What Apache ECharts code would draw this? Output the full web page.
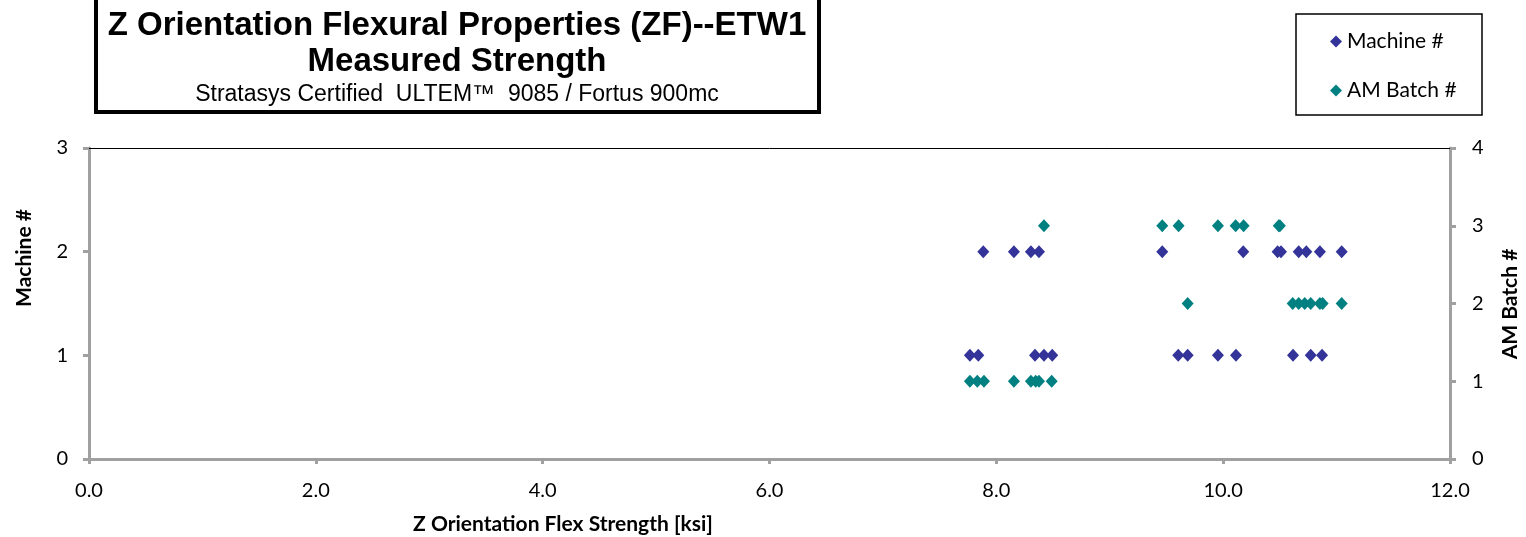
<!DOCTYPE html>
<html>
<head>
<meta charset="utf-8">
<script src="https://cdn.jsdelivr.net/npm/echarts@6/dist/echarts.min.js"></script>
<style>html,body{margin:0;padding:0;background:#fff;}#c{width:1526px;height:537px;}</style>
</head>
<body>
<div id="c"></div>
<script>
// Data
const titleLines = ['Z Orientation Flexural Properties (ZF)--ETW1', 'Measured Strength', 'Stratasys Certified  ULTEM\u2122  9085 / Fortus 900mc'];
const seriesNames = ['Machine #', 'AM Batch #'];
const xTitle = 'Z Orientation Flex Strength [ksi]';
// Machine # (left axis)
const machine1 = [7.767, 7.841, 8.341, 8.42, 8.493, 9.604, 9.687, 9.954, 10.113, 10.616, 10.772, 10.872];
const machine2 = [7.885, 8.155, 8.305, 8.376, 9.463, 10.177, 10.48, 10.51, 10.666, 10.733, 10.853, 11.045];
// AM Batch # (right axis)
const batch1 = [7.767, 7.832, 7.891, 8.155, 8.305, 8.347, 8.376, 8.488];
const batch2 = [9.687, 10.613, 10.666, 10.719, 10.772, 10.853, 10.877, 11.045];
const batch3 = [8.42, 9.463, 9.607, 9.954, 10.11, 10.18, 10.49, 10.5];

const machineData = machine1.map(v => [v, 1]).concat(machine2.map(v => [v, 2]));
const batchData = batch1.map(v => [v, 1]).concat(batch2.map(v => [v, 2])).concat(batch3.map(v => [v, 3]));

const FONT = 'Lato, "Open Sans", sans-serif';
const TFONT = '"Liberation Sans", Arial, sans-serif';
const axisGray = '#a0a0a0';

const chart = echarts.init(document.getElementById('c'));
chart.setOption({
  animation: false,
  backgroundColor: '#fff',
  grid: { left: 89, right: 76, top: 148, bottom: 78, containLabel: false },
  xAxis: [{
    type: 'value', min: 0, max: 12, interval: 2, position: 'bottom',
    axisLine: { show: true, onZero: false, lineStyle: { color: axisGray, width: 3 } },
    axisTick: { show: true, length: 5, lineStyle: { color: axisGray, width: 3 } },
    axisLabel: { formatter: v => v.toFixed(1), color: '#000', fontSize: 20, fontFamily: FONT, margin: 22 },
    splitLine: { show: false }
  }, {
    type: 'value', min: 0, max: 12, position: 'top',
    axisLine: { show: true, onZero: false, lineStyle: { color: '#000', width: 1 } },
    axisTick: { show: false }, axisLabel: { show: false }, splitLine: { show: false }
  }],
  yAxis: [{
    type: 'value', min: 0, max: 3, interval: 1, position: 'left',
    axisLine: { show: true, onZero: false, lineStyle: { color: axisGray, width: 3 } },
    axisTick: { show: true, length: 6, lineStyle: { color: axisGray, width: 3 } },
    axisLabel: { color: '#000', fontSize: 20, fontFamily: FONT, margin: 21 },
    splitLine: { show: false }
  }, {
    type: 'value', min: 0, max: 4, interval: 1, position: 'right',
    axisLine: { show: true, onZero: false, lineStyle: { color: axisGray, width: 3 } },
    axisTick: { show: true, length: 6, lineStyle: { color: axisGray, width: 3 } },
    axisLabel: { color: '#000', fontSize: 20, fontFamily: FONT, margin: 22 },
    splitLine: { show: false }
  }],
  legend: {
    orient: 'vertical', left: 1325, top: 26, itemGap: 28,
    itemWidth: 12, itemHeight: 12,
    textStyle: { fontSize: 21, fontFamily: FONT, color: '#000' },
    data: [{ name: seriesNames[0], icon: 'diamond' }, { name: seriesNames[1], icon: 'diamond' }]
  },
  series: [{
    name: seriesNames[0], type: 'scatter', xAxisIndex: 0, yAxisIndex: 0,
    symbol: 'diamond', symbolSize: [12, 13], itemStyle: { color: '#333399', opacity: 1 },
    data: machineData
  }, {
    name: seriesNames[1], type: 'scatter', xAxisIndex: 0, yAxisIndex: 1,
    symbol: 'diamond', symbolSize: [12, 13], itemStyle: { color: '#008080', opacity: 1 },
    data: batchData
  }],
  graphic: [
    { type: 'rect', shape: { x: 96, y: -3, width: 723, height: 115 }, style: { fill: '#fff', stroke: '#000', lineWidth: 4 }, z: 1 },
    { type: 'text', z: 2, style: { text: titleLines[0], x: 457, y: 26, textAlign: 'center', textVerticalAlign: 'middle', font: 'bold 33px ' + TFONT, fill: '#000' } },
    { type: 'text', z: 2, style: { text: titleLines[1], x: 457, y: 62, textAlign: 'center', textVerticalAlign: 'middle', font: 'bold 33px ' + TFONT, fill: '#000' } },
    { type: 'text', z: 2, style: { text: titleLines[2], x: 457, y: 95, textAlign: 'center', textVerticalAlign: 'middle', font: '23px ' + TFONT, fill: '#000' } },
    { type: 'rect', shape: { x: 1296, y: 14, width: 186, height: 101 }, style: { fill: 'none', stroke: '#000', lineWidth: 1.5 }, z: 1 },
    { type: 'text', style: { text: xTitle, x: 563, y: 524, textAlign: 'center', textVerticalAlign: 'middle', font: 'bold 21px ' + FONT, fill: '#000' } },
    { type: 'text', rotation: Math.PI / 2, x: 24, y: 258, style: { text: seriesNames[0], x: 0, y: 0, textAlign: 'center', textVerticalAlign: 'middle', font: 'bold 21px ' + FONT, fill: '#000' } },
    { type: 'text', rotation: Math.PI / 2, x: 1510, y: 304, style: { text: seriesNames[1], x: 0, y: 0, textAlign: 'center', textVerticalAlign: 'middle', font: 'bold 21px ' + FONT, fill: '#000' } }
  ]
});
</script>
</body>
</html>
